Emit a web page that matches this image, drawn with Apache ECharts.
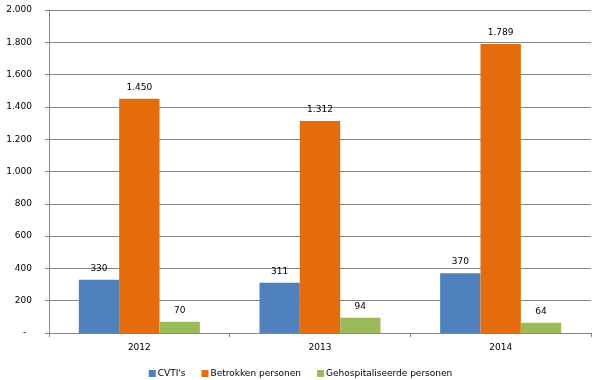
<!DOCTYPE html>
<html><head><meta charset="utf-8">
<script src="https://cdn.jsdelivr.net/npm/echarts@6/dist/echarts.min.js"></script>
<style>html,body{margin:0;padding:0;background:#fff}#c{width:601px;height:380px}</style>
</head><body><div id="c"></div>
<script>
const categories = ['2012', '2013', '2014'];
const cvti = [330, 311, 370];
const betrokken = [1450, 1312, 1789];
const gehospitaliseerd = [70, 94, 64];
const seriesNames = ["CVTI's", 'Betrokken personen', 'Gehospitaliseerde personen'];

function fmt(v) {
  if (v === 0) return '-  ';
  return String(v).replace(/\B(?=(\d{3})+(?!\d))/g, '.');
}
const font = '"DejaVu Sans", Verdana, sans-serif';
const chart = echarts.init(document.getElementById('c'), null, {renderer: 'canvas'});
const lbl = {show: true, position: 'top', distance: 7, color: '#000', fontSize: 9, fontFamily: font, formatter: p => fmt(p.value)};
chart.setOption({
  animation: false,
  color: ['#4F81BD', '#E46C0A', '#9BBB59'],
  grid: {left: 49, right: 10, top: 10, bottom: 47, containLabel: false},
  legend: {top: 369, left: 'center', padding: 0, itemWidth: 7, itemHeight: 7, itemGap: 16, icon: 'rect',
    textStyle: {fontSize: 9, fontFamily: font, color: '#000', padding: [0, 0, 0, -3]}},
  xAxis: {type: 'category', data: categories,
    axisLine: {lineStyle: {color: '#868686'}},
    axisTick: {show: true, length: 4, lineStyle: {color: '#868686'}},
    axisLabel: {color: '#000', fontSize: 9, fontFamily: font, margin: 10}},
  yAxis: {type: 'value', min: 0, max: 2000, interval: 200,
    axisLine: {show: true, lineStyle: {color: '#868686'}},
    axisTick: {show: true, length: 4, lineStyle: {color: '#868686'}},
    splitLine: {lineStyle: {color: '#868686'}},
    axisLabel: {color: '#000', fontSize: 9, fontFamily: font, margin: 17, formatter: fmt}},
  series: [
    {name: seriesNames[0], type: 'bar', data: cvti, barGap: '0%', barCategoryGap: '33%', label: lbl},
    {name: seriesNames[1], type: 'bar', data: betrokken, barGap: '0%', barCategoryGap: '33%', label: lbl},
    {name: seriesNames[2], type: 'bar', data: gehospitaliseerd, barGap: '0%', barCategoryGap: '33%', label: lbl}
  ]
});
</script></body></html>
